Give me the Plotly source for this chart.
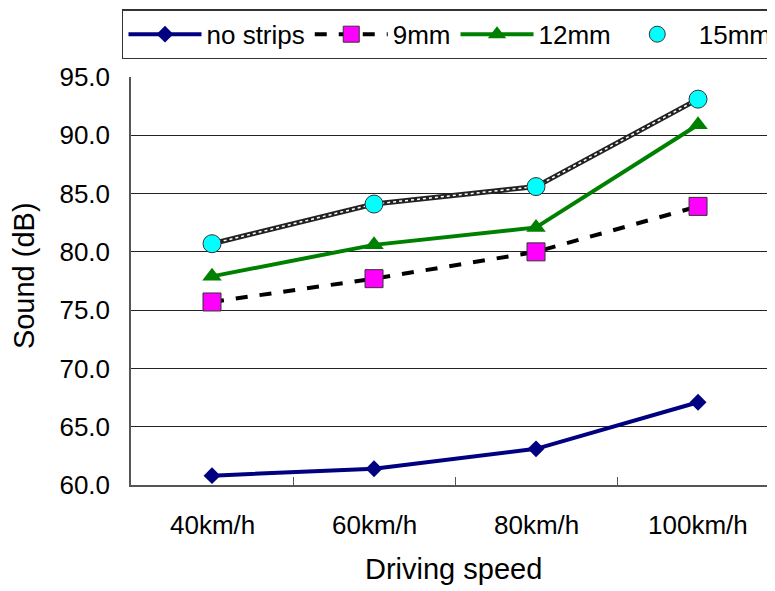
import plotly.graph_objects as go

categories = ["40km/h", "60km/h", "80km/h", "100km/h"]
no_strips = [60.8, 61.4, 63.1, 67.1]
mm9 = [75.7, 77.7, 80.0, 83.9]
mm12 = [77.9, 80.6, 82.1, 90.9]
mm15 = [80.7, 84.1, 85.6, 93.1]
y_ticks = [60, 65, 70, 75, 80, 85, 90, 95]

FONT = "Liberation Sans, Arial, sans-serif"
fig = go.Figure()

fig.add_trace(go.Scatter(
    x=categories, y=no_strips, name="no strips", mode="lines+markers",
    line=dict(color="#000080", width=4),
    marker=dict(symbol="diamond", size=13, color="#000080"),
))
fig.add_trace(go.Scatter(
    x=categories, y=mm9, name="9mm", mode="lines+markers",
    line=dict(color="black", width=4, dash="dash"),
    marker=dict(symbol="square", size=18, color="#ff00ff", line=dict(color="#333333", width=1)),
))
fig.add_trace(go.Scatter(
    x=categories, y=mm12, name="12mm", mode="lines+markers",
    line=dict(color="#008000", width=4),
    marker=dict(symbol="triangle-up", size=17, color="#008000"),
))
fig.add_trace(go.Scatter(
    x=categories, y=mm15, name="15mm", mode="lines",
    line=dict(color="#222222", width=5),
    showlegend=False, hoverinfo="skip",
))
fig.add_trace(go.Scatter(
    x=categories, y=mm15, name="15mm", mode="lines+markers",
    line=dict(color="white", width=1.5, dash="dot"),
    marker=dict(symbol="circle", size=18, color="#00ffff", line=dict(color="#333333", width=1)),
))

fig.update_layout(
    width=767, height=583,
    margin=dict(l=123, r=0, t=69, b=106, autoexpand=False),
    paper_bgcolor="white", plot_bgcolor="white",
    font=dict(family=FONT, color="black"),
    showlegend=True,
    legend=dict(
        orientation="h", x=-0.014, xanchor="left", y=1.166, yanchor="top",
        bordercolor="#333333", borderwidth=1.5, bgcolor="white",
        font=dict(size=26, family=FONT), itemwidth=73,
        tracegroupgap=0,
    ),
    xaxis=dict(
        range=[-0.5, 3.475], showgrid=False, showline=True, linecolor="#555555", linewidth=1.5,
        ticks="inside", ticklen=8, tickcolor="#555555", tickmode="array",
        tickvals=[0.5, 1.5, 2.5], ticktext=["", "", ""],
        zeroline=False, automargin=False,
    ),
    yaxis=dict(
        range=[60, 95], tickvals=y_ticks, ticktext=[f"{v:.1f}" for v in y_ticks],
        showgrid=True, gridcolor="#222222", gridwidth=1,
        showline=True, linecolor="#555555", linewidth=1.5, mirror=False,
        ticks="", tickfont=dict(size=26), ticklabelstandoff=14,
        zeroline=False, automargin=False,
    ),
)

# category labels below the axis
for i, c in enumerate(categories):
    fig.add_annotation(x=i, y=0, xref="x", yref="paper", yanchor="middle", yshift=-40,
                       text=c, showarrow=False, font=dict(size=26, family=FONT))

fig.add_annotation(x=0.5, y=0, xref="paper", yref="paper", yanchor="middle", yshift=-84,
                   text="Driving speed", showarrow=False, font=dict(size=29, family=FONT))
fig.add_annotation(x=0, y=0.512, xref="paper", yref="paper", xanchor="center", yanchor="middle",
                   xshift=-107, textangle=-90, text="Sound (dB)", showarrow=False,
                   font=dict(size=29, family=FONT))

fig.write_html("out.html")
